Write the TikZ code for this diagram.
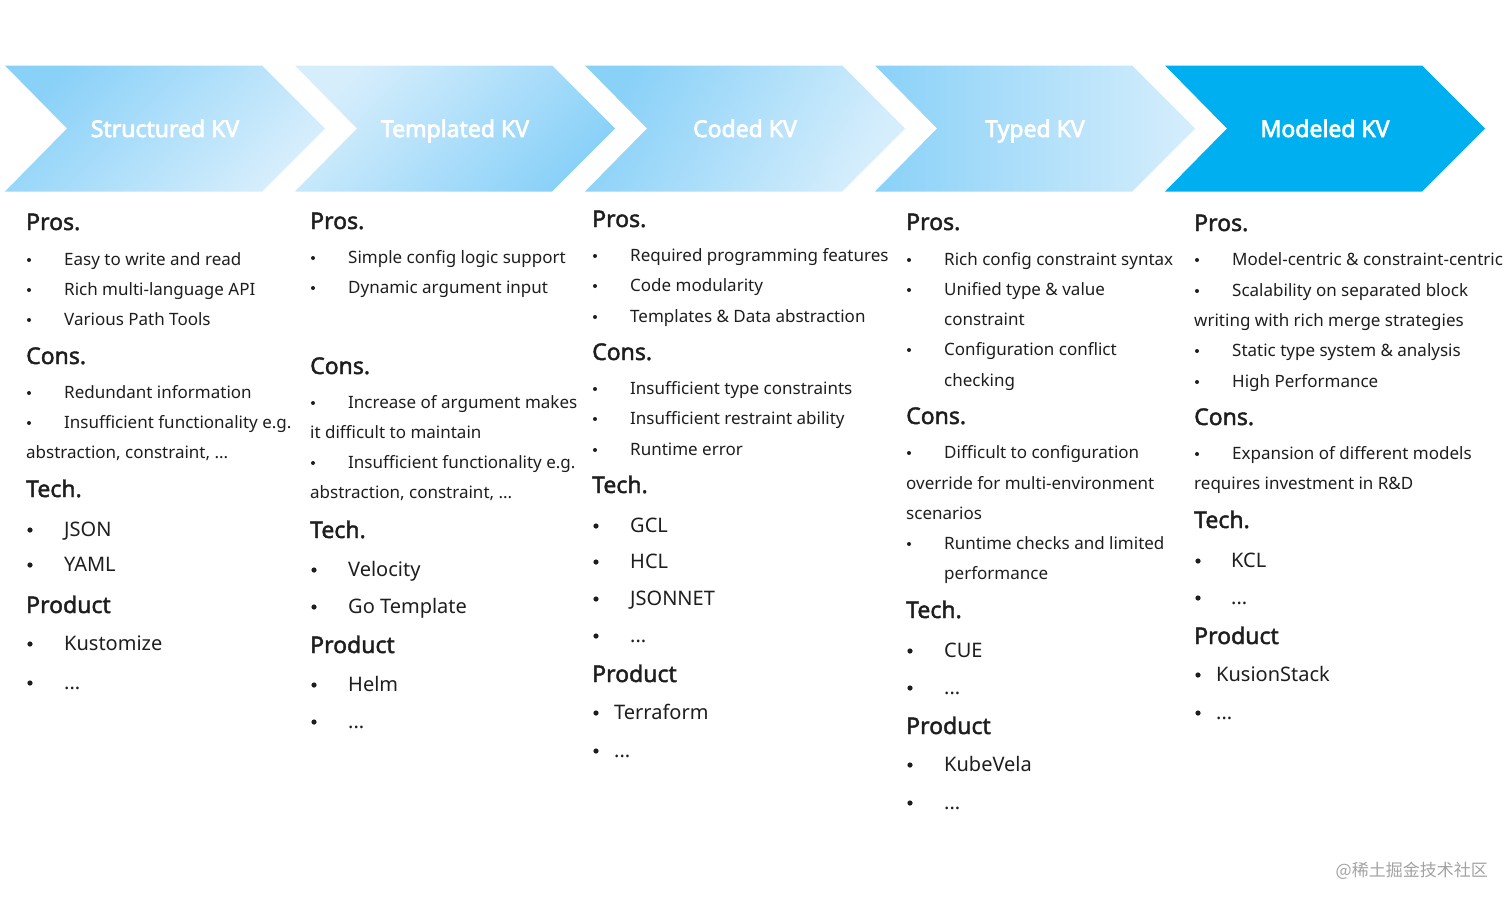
\documentclass[tikz,border=0pt]{standalone}
\usepackage{fontspec}
\setmainfont{Noto Sans}
\newfontfamily\cjkfont{Noto Sans CJK SC}
\newfontfamily\headfont{Noto Sans}[FakeBold=1.8]
\newfontfamily\titlefont{Noto Sans}[FakeBold=3]
\definecolor{txt}{HTML}{1E1E1E}
\definecolor{cdark}{HTML}{8AD1F8}
\definecolor{clight}{HTML}{D6EEFC}
\definecolor{cmod}{HTML}{00AFEF}
\definecolor{wm}{HTML}{A3A3A3}
\newcounter{kvn}
\tikzset{
  bodyst/.style={font=\fontsize{17}{20}\selectfont, text=txt, inner sep=0pt, anchor=base west},
  bigst/.style={font=\fontsize{20}{24}\selectfont, text=txt, inner sep=0pt, anchor=base west},
  headst/.style={font=\headfont\fontsize{23}{27}\selectfont, text=txt, inner sep=0pt, anchor=base west},
  titlest/.style={font=\titlefont\fontsize{23}{27}\selectfont, text=white, inner sep=0pt, anchor=base},
  bul/.style={fill=txt}
}
\newcommand\kvhead[3]{\stepcounter{kvn}\node[headst] (h\arabic{kvn}) at (#1,#2+8) {#3};}
\newcommand\kvitem[3]{\fill[bul] (#1+3,#2+1) circle (2);\stepcounter{kvn}\node[bodyst] (i\arabic{kvn}) at (#1+38,#2+6) {#3};}
\newcommand\kvcont[3]{\stepcounter{kvn}\node[bodyst] (c\arabic{kvn}) at (#1,#2+6) {#3};}
\newcommand\kvbig[4]{\fill[bul] (#1+4,#2+1) circle (2.6);\stepcounter{kvn}\node[bigst] (b\arabic{kvn}) at (#1+#3,#2+7) {#4};}
\newcommand\kvchevpath{(0,65.5) -- (257,65.5) -- (320,128.5) -- (257,191.5) -- (0,191.5) -- (62,128.5) -- cycle}
\begin{document}
\begin{tikzpicture}[x=1pt,y=-1pt]
\useasboundingbox[fill=white] (0,0) rectangle (1512,906);
% chevrons
\begin{scope}[xshift=5pt]
\shade[top color=cdark, bottom color=clight, shading angle=45] \kvchevpath;
\node[titlest] (t1) at (160,137) {Structured KV};
\end{scope}
\begin{scope}[xshift=295pt]
\shade[top color=clight, bottom color=cdark, shading angle=45] \kvchevpath;
\node[titlest] (t2) at (160,137) {Templated KV};
\end{scope}
\begin{scope}[xshift=585pt]
\shade[top color=cdark, bottom color=clight, shading angle=60] \kvchevpath;
\node[titlest] (t3) at (160,137) {Coded KV};
\end{scope}
\begin{scope}[xshift=875pt]
\shade[left color=cdark, right color=clight] \kvchevpath;
\node[titlest] (t4) at (160,137) {Typed KV};
\end{scope}
\begin{scope}[xshift=1165pt]
\fill[cmod] \kvchevpath;
\node[titlest] (t5) at (160,137) {Modeled KV};
\end{scope}
% column 1
\kvhead{26}{222}{Pros.}
\kvitem{26}{259}{Easy to write and read}
\kvitem{26}{289}{Rich multi-language API}
\kvitem{26}{319}{Various Path Tools}
\kvhead{26}{356}{Cons.}
\kvitem{26}{392}{Redundant information}
\kvitem{26}{422}{Insufficient functionality e.g.}
\kvcont{26}{452}{abstraction, constraint, ...}
\kvhead{26}{489}{Tech.}
\kvbig{26}{529}{38}{JSON}
\kvbig{26}{564}{38}{YAML}
\kvhead{26}{605}{Product}
\kvbig{26}{643}{38}{Kustomize}
\kvbig{26}{682}{38}{...}
% column 2
\kvhead{310}{221}{Pros.}
\kvitem{310}{257}{Simple config logic support}
\kvitem{310}{287}{Dynamic argument input}
\kvhead{310}{366}{Cons.}
\kvitem{310}{402}{Increase of argument makes}
\kvcont{310}{432}{it difficult to maintain}
\kvitem{310}{462}{Insufficient functionality e.g.}
\kvcont{310}{492}{abstraction, constraint, ...}
\kvhead{310}{530}{Tech.}
\kvbig{310}{569}{38}{Velocity}
\kvbig{310}{606}{38}{Go Template}
\kvhead{310}{645}{Product}
\kvbig{310}{684}{38}{Helm}
\kvbig{310}{721}{38}{...}
% column 3
\kvhead{592}{219}{Pros.}
\kvitem{592}{255}{Required programming features}
\kvitem{592}{285}{Code modularity}
\kvitem{592}{316}{Templates \& Data abstraction}
\kvhead{592}{352}{Cons.}
\kvitem{592}{388}{Insufficient type constraints}
\kvitem{592}{418}{Insufficient restraint ability}
\kvitem{592}{449}{Runtime error}
\kvhead{592}{485}{Tech.}
\kvbig{592}{525}{38}{GCL}
\kvbig{592}{561}{38}{HCL}
\kvbig{592}{598}{38}{JSONNET}
\kvbig{592}{635}{38}{...}
\kvhead{592}{674}{Product}
\kvbig{592}{712}{22}{Terraform}
\kvbig{592}{750}{22}{...}
% column 4
\kvhead{906}{222}{Pros.}
\kvitem{906}{259}{Rich config constraint syntax}
\kvitem{906}{289}{Unified type \& value}
\kvcont{944}{319}{constraint}
\kvitem{906}{349}{Configuration conflict}
\kvcont{944}{380}{checking}
\kvhead{906}{416}{Cons.}
\kvitem{906}{452}{Difficult to configuration}
\kvcont{906}{483}{override for multi-environment}
\kvcont{906}{513}{scenarios}
\kvitem{906}{543}{Runtime checks and limited}
\kvcont{944}{573}{performance}
\kvhead{906}{610}{Tech.}
\kvbig{906}{650}{38}{CUE}
\kvbig{906}{687}{38}{...}
\kvhead{906}{726}{Product}
\kvbig{906}{764}{38}{KubeVela}
\kvbig{906}{802}{38}{...}
% column 5
\kvhead{1194}{223}{Pros.}
\kvitem{1194}{259}{Model-centric \& constraint-centric}
\kvitem{1194}{290}{Scalability on separated block}
\kvcont{1194}{320}{writing with rich merge strategies}
\kvitem{1194}{350}{Static type system \& analysis}
\kvitem{1194}{381}{High Performance}
\kvhead{1194}{417}{Cons.}
\kvitem{1194}{453}{Expansion of different models}
\kvcont{1194}{483}{requires investment in R\&D}
\kvhead{1194}{520}{Tech.}
\kvbig{1194}{560}{37}{KCL}
\kvbig{1194}{597}{37}{...}
\kvhead{1194}{636}{Product}
\kvbig{1194}{674}{22}{KusionStack}
\kvbig{1194}{712}{22}{...}
% watermark
\node[font=\cjkfont\fontsize{17}{20}\selectfont, text=wm, inner sep=0pt, anchor=east] (wmk) at (1488,871) {@稀土掘金技术社区};
\end{tikzpicture}
\end{document}
